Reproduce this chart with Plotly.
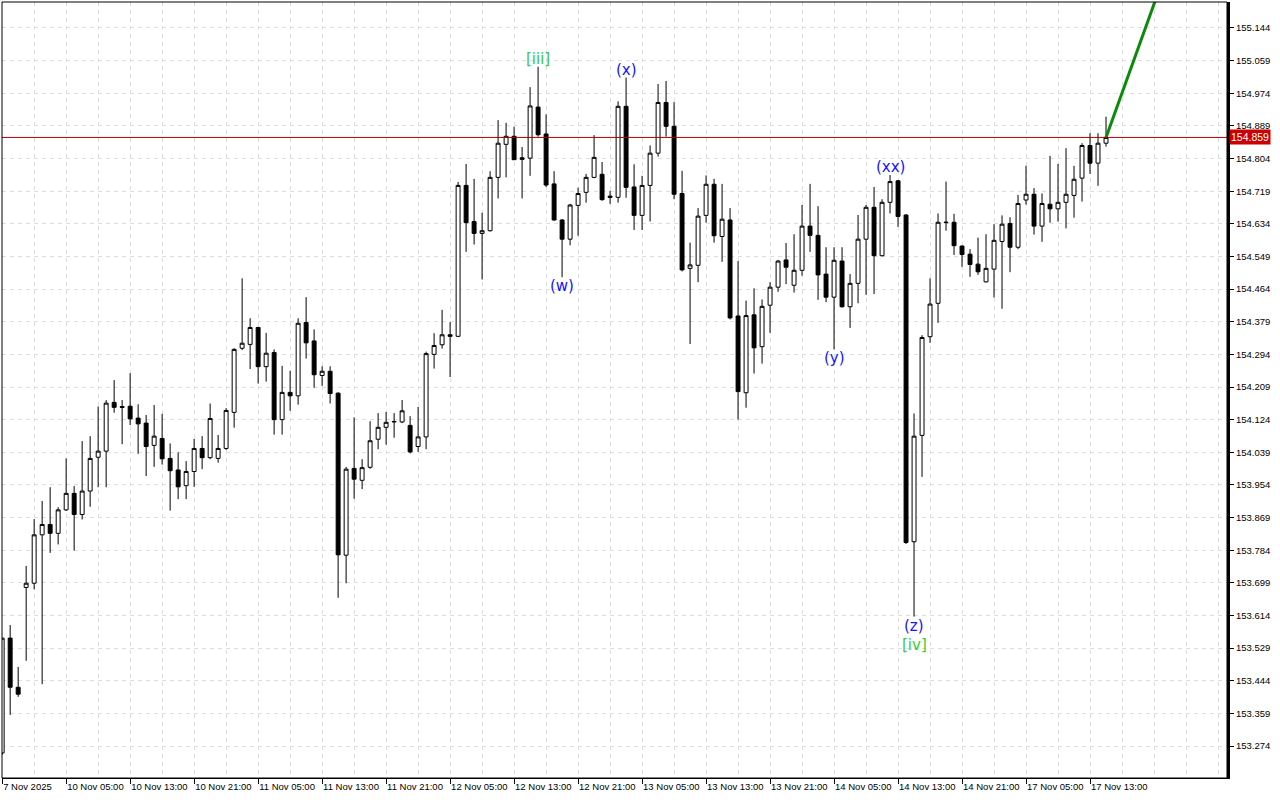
import plotly.graph_objects as go

# ---- data (hourly bars) ----
open_ = [153.256, 153.555, 153.427, 153.687, 153.698, 153.824, 153.851, 153.828, 153.889, 153.932,
         153.877, 153.938, 154.026, 154.042, 154.169, 154.158, 154.159, 154.128, 154.115, 154.057,
         154.075, 154.023, 153.993, 153.952, 153.989, 154.049, 154.025, 154.023, 154.049, 154.143,
         154.310, 154.320, 154.364, 154.262, 154.299, 154.124, 154.195, 154.186, 154.377, 154.329,
         154.239, 154.250, 154.193, 153.771, 153.997, 153.966, 154.000, 154.073, 154.104, 154.118,
         154.118, 154.109, 154.054, 154.079, 154.294, 154.319, 154.345, 154.341, 154.734, 154.640,
         154.609, 154.616, 154.755, 154.841, 154.862, 154.806, 154.805, 154.938, 154.868, 154.738,
         154.644, 154.594, 154.682, 154.716, 154.755, 154.763, 154.706, 154.703, 154.940, 154.730,
         154.656, 154.734, 154.818, 154.950, 154.888, 154.713, 154.518, 154.526, 154.656, 154.737,
         154.601, 154.644, 154.394, 154.194, 154.397, 154.314, 154.422, 154.469, 154.540, 154.474,
         154.513, 154.628, 154.604, 154.503, 154.443, 154.537, 154.418, 154.479, 154.594, 154.677,
         154.551, 154.690, 154.746, 154.657, 153.806, 154.083, 154.340, 154.427, 154.637, 154.638,
         154.576, 154.555, 154.529, 154.483, 154.516, 154.588, 154.635, 154.573, 154.696, 154.711,
         154.628, 154.685, 154.673, 154.690, 154.708, 154.753, 154.838, 154.792, 154.844]
high = [153.555, 153.589, 153.480, 153.743, 153.865, 153.912, 153.948, 153.896, 154.023, 153.951,
        154.068, 154.081, 154.158, 154.175, 154.227, 154.175, 154.245, 154.164, 154.136, 154.162,
        154.139, 154.062, 154.039, 154.016, 154.074, 154.081, 154.166, 154.084, 154.154, 154.310,
        154.492, 154.388, 154.366, 154.350, 154.307, 154.264, 154.251, 154.388, 154.443, 154.359,
        154.263, 154.263, 154.195, 154.001, 154.130, 154.021, 154.120, 154.141, 154.144, 154.141,
        154.175, 154.133, 154.157, 154.301, 154.349, 154.410, 154.378, 154.743, 154.790, 154.751,
        154.663, 154.771, 154.904, 154.897, 154.887, 154.834, 154.990, 155.043, 154.919, 154.771,
        154.646, 154.686, 154.728, 154.764, 154.865, 154.795, 154.720, 154.953, 155.015, 154.789,
        154.759, 154.838, 154.998, 155.006, 154.951, 154.772, 154.585, 154.675, 154.760, 154.751,
        154.738, 154.675, 154.537, 154.434, 154.466, 154.437, 154.482, 154.540, 154.584, 154.607,
        154.683, 154.738, 154.680, 154.573, 154.573, 154.573, 154.503, 154.657, 154.683, 154.730,
        154.698, 154.761, 154.748, 154.659, 154.140, 154.344, 154.492, 154.661, 154.744, 154.660,
        154.578, 154.568, 154.598, 154.607, 154.633, 154.656, 154.651, 154.709, 154.785, 154.727,
        154.713, 154.811, 154.790, 154.831, 154.785, 154.844, 154.870, 154.870, 154.913]
low = [153.251, 153.355, 153.402, 153.496, 153.682, 153.435, 153.777, 153.799, 153.886, 153.783,
       153.864, 153.897, 153.948, 153.948, 154.142, 154.060, 154.110, 154.035, 153.977, 154.001,
       154.007, 153.887, 153.917, 153.917, 153.949, 153.995, 154.021, 154.012, 154.045, 154.103,
       154.305, 154.256, 154.218, 154.223, 154.085, 154.085, 154.147, 154.163, 154.283, 154.207,
       154.212, 154.166, 153.660, 153.698, 153.918, 153.943, 153.996, 154.047, 154.059, 154.077,
       154.115, 154.036, 154.040, 154.047, 154.257, 154.309, 154.235, 154.339, 154.561, 154.580,
       154.489, 154.614, 154.700, 154.755, 154.801, 154.700, 154.759, 154.861, 154.730, 154.642,
       154.495, 154.578, 154.603, 154.689, 154.753, 154.694, 154.686, 154.689, 154.702, 154.618,
       154.618, 154.640, 154.809, 154.861, 154.698, 154.510, 154.321, 154.482, 154.637, 154.585,
       154.535, 154.385, 154.124, 154.155, 154.244, 154.270, 154.350, 154.457, 154.477, 154.455,
       154.499, 154.561, 154.436, 154.430, 154.307, 154.416, 154.363, 154.427, 154.449, 154.451,
       154.549, 154.661, 154.626, 153.800, 153.611, 153.975, 154.324, 154.376, 154.616, 154.553,
       154.522, 154.496, 154.501, 154.481, 154.442, 154.413, 154.508, 154.568, 154.684, 154.606,
       154.587, 154.637, 154.640, 154.622, 154.650, 154.692, 154.764, 154.733, 154.835]
close = [153.555, 153.427, 153.409, 153.698, 153.824, 153.851, 153.828, 153.889, 153.932, 153.877,
         153.938, 154.023, 154.042, 154.167, 154.156, 154.156, 154.126, 154.113, 154.054, 154.081,
         154.022, 153.991, 153.949, 153.989, 154.049, 154.025, 154.127, 154.049, 154.148, 154.307,
         154.323, 154.364, 154.262, 154.297, 154.124, 154.195, 154.186, 154.375, 154.324, 154.241,
         154.250, 154.192, 153.772, 153.995, 153.969, 153.999, 154.069, 154.104, 154.117, 154.119,
         154.147, 154.040, 154.079, 154.296, 154.317, 154.345, 154.341, 154.734, 154.637, 154.609,
         154.616, 154.755, 154.844, 154.862, 154.801, 154.802, 154.941, 154.866, 154.735, 154.644,
         154.594, 154.683, 154.713, 154.755, 154.807, 154.697, 154.703, 154.940, 154.729, 154.656,
         154.734, 154.818, 154.950, 154.888, 154.711, 154.514, 154.527, 154.654, 154.737, 154.603,
         154.646, 154.389, 154.197, 154.395, 154.311, 154.419, 154.469, 154.537, 154.521, 154.513,
         154.628, 154.604, 154.501, 154.443, 154.539, 154.418, 154.479, 154.594, 154.677, 154.551,
         154.690, 154.744, 154.653, 153.804, 154.081, 154.338, 154.425, 154.638, 154.638, 154.577,
         154.554, 154.528, 154.509, 154.518, 154.591, 154.633, 154.573, 154.687, 154.711, 154.628,
         154.687, 154.673, 154.690, 154.711, 154.750, 154.838, 154.792, 154.844, 154.859]

# x-axis labels (every 8 hourly bars)
x_tick_bars = [0, 8, 16, 24, 32, 40, 48, 56, 64, 72, 80, 88, 96, 104, 112, 120, 128, 136]
x_tick_labels = ["7 Nov 2025", "10 Nov 05:00", "10 Nov 13:00", "10 Nov 21:00", "11 Nov 05:00",
                 "11 Nov 13:00", "11 Nov 21:00", "12 Nov 05:00", "12 Nov 13:00", "12 Nov 21:00",
                 "13 Nov 05:00", "13 Nov 13:00", "13 Nov 21:00", "14 Nov 05:00", "14 Nov 13:00",
                 "14 Nov 21:00", "17 Nov 05:00", "17 Nov 13:00"]
minor_grid_bars = [4, 12, 20, 28, 36, 44, 52, 60, 68, 76, 84, 92, 100, 108, 116, 124, 132,
                   140, 144, 148, 152]

# y-axis ticks
y_ticks = [153.274, 153.359, 153.444, 153.529, 153.614, 153.699, 153.784, 153.869, 153.954,
           154.039, 154.124, 154.209, 154.294, 154.379, 154.464, 154.549, 154.634, 154.719,
           154.804, 154.889, 154.974, 155.059, 155.144]

# Elliott wave labels
wave_labels = ["[iii]", "(w)", "(x)", "(y)", "(xx)", "(z)", "[iv]"]
wave_bars = [67, 70, 78, 104, 111, 114, 114]
wave_at = ["high", "low", "high", "low", "high", "low", "low"]
wave_colors = ["#3CC83C", "#1414FF", "#1414FF", "#1414FF", "#1414FF", "#1414FF", "#3CC83C"]
wave_shift = [8, -9, 8, -9, 8, -9, -28]

# projection line (green)
proj_bars = [138, 146]
proj_prices = [154.859, 155.322]

bars = list(range(len(close)))

fig = go.Figure()
fig.add_trace(go.Candlestick(
    x=bars, open=open_, high=high, low=low, close=close,
    increasing=dict(line=dict(color="black", width=1), fillcolor="white"),
    decreasing=dict(line=dict(color="black", width=1), fillcolor="black"),
    whiskerwidth=0, hoverinfo="skip", showlegend=False,
))
fig.add_trace(go.Scatter(
    x=proj_bars, y=proj_prices, mode="lines",
    line=dict(color="#0B8A0B", width=3), hoverinfo="skip", showlegend=False,
))

font = dict(family="Liberation Sans, Arial, sans-serif", size=9.5, color="black")

for lab, b, at, col, sh in zip(wave_labels, wave_bars, wave_at, wave_colors, wave_shift):
    yv = high[b] if at == "high" else low[b]
    fig.add_annotation(x=b, y=yv, text=lab, showarrow=False, xanchor="center",
                       yanchor="middle", yshift=sh,
                       font=dict(family="DejaVu Sans, sans-serif", size=15, color=col))

last = close[-1]
# bid line
fig.add_shape(type="line", xref="paper", x0=0, x1=1, yref="y", y0=last, y1=last,
              line=dict(color="#B00000", width=1))
# price label
fig.add_annotation(xref="paper", x=1, xanchor="left", xshift=2, y=last, yanchor="middle",
                   text=f"{last:.3f}", showarrow=False, bgcolor="#CC0000",
                   font=dict(family="Liberation Sans, Arial, sans-serif", size=10.5, color="white"),
                   borderpad=1)
# frame
fig.add_shape(type="rect", xref="paper", yref="paper", x0=0, x1=1, y0=0, y1=1,
              line=dict(color="black", width=1), layer="above")

grid = "#DEDEDE"
fig.update_layout(
    width=1280, height=800,
    margin=dict(l=2, r=53, t=2, b=22, autoexpand=False),
    paper_bgcolor="white", plot_bgcolor="white",
    showlegend=False,
    xaxis=dict(
        range=[-0.02, 153.125], rangeslider=dict(visible=False),
        tickmode="array", tickvals=x_tick_bars, ticktext=x_tick_labels,
        ticks="outside", ticklen=5, tickcolor="black", tickangle=0,
        ticklabelposition="outside right", tickfont=font, automargin=False,
        showgrid=True, gridcolor=grid, griddash="4px,4px", gridwidth=1,
        minor=dict(tickmode="array", tickvals=minor_grid_bars, showgrid=True,
                   gridcolor=grid, griddash="4px,4px", ticks=""),
        showline=True, linecolor="black", linewidth=1, zeroline=False,
    ),
    yaxis=dict(
        side="right", range=[153.1907, 155.2117],
        tickmode="array", tickvals=y_ticks, tickformat=".3f",
        ticks="outside", ticklen=4, tickcolor="black", tickfont=font, automargin=False,
        showgrid=True, gridcolor=grid, griddash="4px,4px", gridwidth=1,
        showline=True, linecolor="black", linewidth=3, zeroline=False,
    ),
)

fig.write_html("out.html", config={"displayModeBar": False},
               post_script="document.body.style.margin='0';document.body.style.padding='0';")
